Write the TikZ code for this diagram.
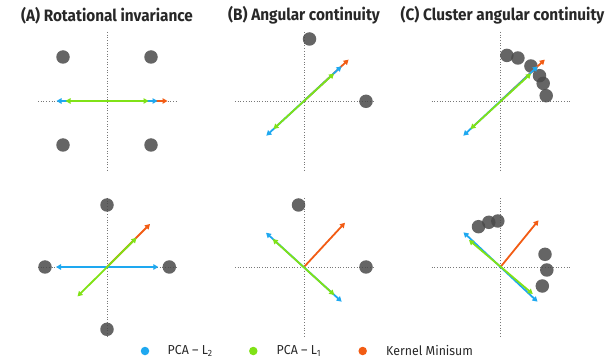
\documentclass[tikz,border=0pt]{standalone}
\usepackage{fontspec}
\setmainfont{Fira Sans}
\newfontfamily\titlefont[FakeStretch=0.93]{Fira Sans}
\newfontfamily\legendfont[FakeStretch=0.95]{Fira Sans}
\usetikzlibrary{arrows.meta}
\definecolor{cblue}{RGB}{30,168,240}
\definecolor{cgreen}{RGB}{128,226,22}
\definecolor{corange}{RGB}{242,92,20}
\definecolor{cdot}{RGB}{74,74,74}
\definecolor{caxis}{RGB}{120,120,120}
\definecolor{ctext}{RGB}{40,40,40}
\tikzset{
  axisline/.style={caxis, line width=0.7pt, dotted},
  datadot/.style={circle, fill=cdot, fill opacity=0.85, draw=none, minimum size=13.5pt, inner sep=0pt},
  bluearr/.style={cblue, line width=1.8pt, {Triangle[length=5pt,width=5.5pt]}-{Triangle[length=5pt,width=5.5pt]}},
  greenarr/.style={cgreen, line width=1.8pt, {Triangle[length=5pt,width=5.5pt]}-{Triangle[length=5pt,width=5.5pt]}},
  orangearr/.style={corange, line width=1.8pt, -{Triangle[length=5pt,width=5.5pt]}},
  paneltitle/.style={font=\titlefont\bfseries\fontsize{16.5}{18}\selectfont, text=ctext, inner sep=0pt},
  legdot/.style={circle, minimum size=8.5pt, inner sep=0pt, draw=none},
  legtext/.style={font=\legendfont\fontsize{13}{15}\selectfont, text=ctext, anchor=west, inner sep=0pt},
}
\begin{document}
\begin{tikzpicture}[x=1pt,y=-1pt]
\useasboundingbox (0,0) rectangle (608,358);
% titles
\node[paneltitle] (tA) at (107,15.5) {(A) Rotational invariance};
\node[paneltitle] (tB) at (304,15.5) {(B) Angular continuity};
\node[paneltitle] (tC) at (502.5,15.5) {(C) Cluster angular continuity};

% centres
\coordinate (cA1) at (107,101);
\coordinate (cB1) at (304,101);
\coordinate (cC1) at (500.5,101);
\coordinate (cA2) at (107,267);
\coordinate (cB2) at (304,267);
\coordinate (cC2) at (500.5,267);

% axes
\foreach \c/\x/\y in {A1/107/101,B1/304/101,C1/500.5/101,A2/107/267,B2/304/267,C2/500.5/267}{
  \coordinate (h\c l) at (\x-69,\y);
  \coordinate (h\c r) at (\x+69,\y);
  \coordinate (v\c t) at (\x,\y-69);
  \coordinate (v\c b) at (\x,\y+69);
  \draw[axisline] (h\c l) -- (h\c r);
  \draw[axisline] (v\c t) -- (v\c b);
}

% ---------- dots ----------
% A top
\node[datadot] (dA1a) at (63,57) {};
\node[datadot] (dA1b) at (151,57) {};
\node[datadot] (dA1c) at (63,145) {};
\node[datadot] (dA1d) at (151,145) {};
% B top
\node[datadot] (dB1a) at (309.5,39) {};
\node[datadot] (dB1b) at (366,101.3) {};
% C top
\node[datadot] (dC1a) at (506.9,55.4) {};
\node[datadot] (dC1b) at (517.9,58) {};
\node[datadot] (dC1c) at (530.9,66) {};
\node[datadot] (dC1d) at (539.5,75.7) {};
\node[datadot] (dC1e) at (543.2,83.4) {};
\node[datadot] (dC1f) at (546.2,95.7) {};
% A bottom
\node[datadot] (dA2a) at (107,205) {};
\node[datadot] (dA2b) at (107,329.3) {};
\node[datadot] (dA2c) at (45,267) {};
\node[datadot] (dA2d) at (169.3,267) {};
% B bottom
\node[datadot] (dB2a) at (298.5,205) {};
\node[datadot] (dB2b) at (366,267) {};
% C bottom
\node[datadot] (dC2a) at (478.5,226.7) {};
\node[datadot] (dC2b) at (488.8,222.3) {};
\node[datadot] (dC2c) at (497.8,221) {};
\node[datadot] (dC2d) at (545,254.3) {};
\node[datadot] (dC2e) at (546.8,270) {};
\node[datadot] (dC2f) at (542.3,286) {};

% ---------- arrows ----------
% A top
\coordinate (oA1) at (167.5,101);
\coordinate (bA1l) at (56.5,101);
\coordinate (bA1r) at (157.5,101);
\coordinate (gA1l) at (65.5,101);
\coordinate (gA1r) at (148.5,101);
\draw[orangearr] (cA1) -- (oA1);
\draw[bluearr] (bA1l) -- (bA1r);
\draw[greenarr] (gA1l) -- (gA1r);
% B top
\coordinate (oB1) at (348.6,59.6);
\coordinate (bB1u) at (341.5,66.3);
\coordinate (bB1d) at (266.3,135.7);
\coordinate (gB1u) at (334,73.5);
\coordinate (gB1d) at (273.5,129);
\draw[orangearr] (cB1) -- (oB1);
\draw[bluearr] (bB1d) -- (bB1u);
\draw[greenarr] (gB1d) -- (gB1u);
% C top
\coordinate (oC1) at (544.8,59.6);
\coordinate (bC1u) at (537.8,66.3);
\coordinate (bC1d) at (463.3,135.7);
\coordinate (gC1u) at (531,73.5);
\coordinate (gC1d) at (470.5,129);
\draw[orangearr] (cC1) -- (oC1);
\draw[bluearr] (bC1d) -- (bC1u);
\draw[greenarr] (gC1d) -- (gC1u);
% A bottom
\coordinate (oA2) at (150,224);
\coordinate (bA2l) at (56,267);
\coordinate (bA2r) at (158.3,267);
\coordinate (gA2u) at (136.5,237.8);
\coordinate (gA2d) at (77.5,296.4);
\draw[orangearr] (cA2) -- (oA2);
\draw[bluearr] (bA2l) -- (bA2r);
\draw[greenarr] (gA2d) -- (gA2u);
% B bottom
\coordinate (oB2) at (345,222.7);
\coordinate (bB2u) at (266,232.7);
\coordinate (bB2d) at (341.7,301.7);
\coordinate (gB2u) at (272.7,239);
\coordinate (gB2d) at (334.3,295);
\draw[orangearr] (cB2) -- (oB2);
\draw[bluearr] (bB2u) -- (bB2d);
\draw[greenarr] (gB2u) -- (gB2d);
% C bottom
\coordinate (oC2) at (538.5,220.3);
\coordinate (bC2u) at (463.5,232.3);
\coordinate (bC2d) at (537.5,301.7);
\coordinate (gC2u) at (469,240);
\coordinate (gC2d) at (532.8,294);
\draw[orangearr] (cC2) -- (oC2);
\draw[bluearr] (bC2u) -- (bC2d);
\draw[greenarr] (gC2u) -- (gC2d);

% ---------- legend ----------
\node[legdot, fill=cblue] (lb) at (145,351) {};
\node[legtext] (lbt) at (167.5,351) {PCA – L\textsubscript{2}};
\node[legdot, fill=cgreen] (lg) at (253.3,351) {};
\node[legtext] (lgt) at (276.5,351) {PCA – L\textsubscript{1}};
\node[legdot, fill=corange] (lo) at (362.7,351) {};
\node[legtext] (lot) at (386,351) {Kernel Minisum};
\end{tikzpicture}
\end{document}
